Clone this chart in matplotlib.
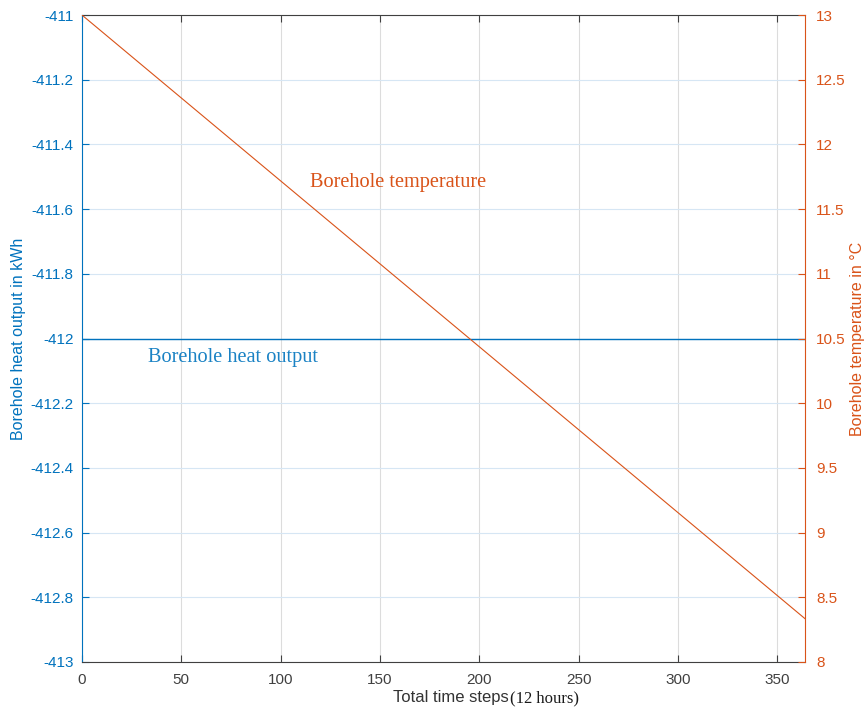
import numpy as np
import matplotlib
matplotlib.use('Agg')
import matplotlib.pyplot as plt

# data
heat_steps = [0, 364]
heat_output = [-412.0, -412.0]
temp_steps = [0, 364]
temp_output = [13.0, 8.335]
left_ticks = [-413, -412.8, -412.6, -412.4, -412.2, -412, -411.8, -411.6, -411.4, -411.2, -411]
right_ticks = [8, 8.5, 9, 9.5, 10, 10.5, 11, 11.5, 12, 12.5, 13]
x_ticks = [0, 50, 100, 150, 200, 250, 300, 350]

blue = '#0072BD'
orange = '#D95319'
axis_grey = '#404040'

plt.rcParams['font.family'] = ['Liberation Sans', 'DejaVu Sans']

fig = plt.figure(figsize=(8.68, 7.18), dpi=100)
ax = fig.add_axes([0.0945, 0.078, 0.8329, 0.901])
ax2 = ax.twinx()

ax.plot(heat_steps, heat_output, color=blue, linewidth=1.0)
ax2.plot(temp_steps, temp_output, color=orange, linewidth=0.8)

ax.set_xlim(0, 364)
ax.set_ylim(-413, -411)
ax2.set_ylim(8, 13)
ax.set_xticks(x_ticks)
ax.set_yticks(left_ticks)
ax.set_yticklabels(['%g' % v for v in left_ticks])
ax2.set_yticks(right_ticks)
ax2.set_yticklabels(['%g' % v for v in right_ticks])

ax.grid(True, axis='x', color='#dcdcdc', linewidth=0.8)
ax.grid(True, axis='y', color='#d6e6f4', linewidth=0.8)
ax.set_axisbelow(True)

for s in ['top', 'bottom']:
    ax.spines[s].set_color(axis_grey)
ax.spines['left'].set_color(blue)
ax2.spines['left'].set_visible(False)
ax2.spines['top'].set_visible(False)
ax2.spines['bottom'].set_visible(False)
ax.spines['right'].set_visible(False)
ax2.spines['right'].set_color(orange)

ax.tick_params(axis='x', direction='in', top=True, colors=axis_grey, labelsize=11,
               length=5, pad=8)
ax.tick_params(axis='y', direction='in', colors=blue, labelsize=11, length=5, pad=6)
ax2.tick_params(axis='y', direction='in', colors=orange, labelsize=11, length=5, pad=8)

ax.set_ylabel('Borehole heat output in kWh', color=blue, fontsize=11.5, labelpad=3)
ax2.set_ylabel('Borehole temperature in °C', color=orange, fontsize=11.5, labelpad=3)

fig.text(0.586, 0.022, 'Total time steps', ha='right', va='baseline',
         color='#333333', fontsize=12)
fig.text(0.587, 0.022, '(12 hours)', ha='left', va='baseline',
         family='Liberation Serif', fontsize=12, color='#1a1a1a')

ax.text(115, -411.53, 'Borehole temperature', color=orange, fontsize=14.6,
        family='Liberation Serif')
ax.text(33, -412.03, 'Borehole heat output', color='#1a82c4', fontsize=14.6,
        family='Liberation Serif', va='top')

fig.savefig('out.png', dpi=100)
